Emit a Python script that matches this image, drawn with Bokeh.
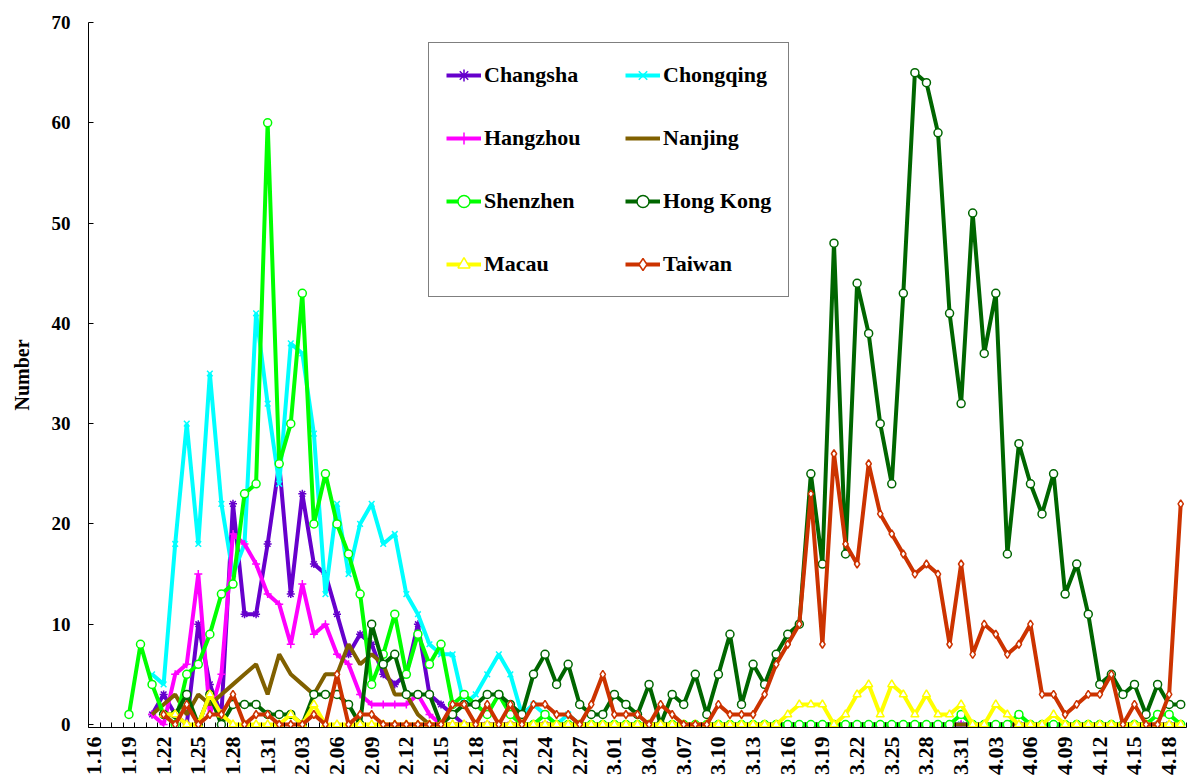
import math
from bokeh.plotting import figure
from bokeh.models import Range1d, FixedTicker, Legend, LegendItem, ColumnDataSource
from bokeh.embed import file_html
from bokeh.resources import INLINE

dates = [
    "1.16", "1.17", "1.18", "1.19", "1.20", "1.21", "1.22", "1.23", "1.24", "1.25",
    "1.26", "1.27", "1.28", "1.29", "1.30", "1.31", "2.01", "2.02", "2.03", "2.04",
    "2.05", "2.06", "2.07", "2.08", "2.09", "2.10", "2.11", "2.12", "2.13", "2.14",
    "2.15", "2.16", "2.17", "2.18", "2.19", "2.20", "2.21", "2.22", "2.23", "2.24",
    "2.25", "2.26", "2.27", "2.28", "2.29", "3.01", "3.02", "3.03", "3.04", "3.05",
    "3.06", "3.07", "3.08", "3.09", "3.10", "3.11", "3.12", "3.13", "3.14", "3.15",
    "3.16", "3.17", "3.18", "3.19", "3.20", "3.21", "3.22", "3.23", "3.24", "3.25",
    "3.26", "3.27", "3.28", "3.29", "3.30", "3.31", "4.01", "4.02", "4.03", "4.04",
    "4.05", "4.06", "4.07", "4.08", "4.09", "4.10", "4.11", "4.12", "4.13", "4.14",
    "4.15", "4.16", "4.17", "4.18", "4.19",
]
N = None
changsha = [
    N, N, N, N, N, 1, 3, 1, 0, 10,
    4, 1, 22, 11, 11, 18, 26, 13, 23, 16,
    15, 11, 7, 9, 8, 5, 4, 5, 10, 3,
    2, 1, 0, 0, 0, 0, 0, 0, 0, 0,
    0, 0, 0, 0, 0, 0, 0, 0, 0, 0,
    0, 0, 0, 0, 0, 0, 0, 0, 0, 0,
    0, 0, 0, 0, 0, 0, 0, 0, 0, 0,
    0, 0, 0, 0, 0, 0, 0, 0, 0, 0,
    0, 0, 0, 0, 0, 0, 0, 0, 0, 0,
    0, 0, 0, 0, 0,
]
chongqing = [
    N, N, N, N, N, 5, 4, 18, 30, 18,
    35, 22, 15, 18, 41, 32, 24, 38, 37, 29,
    13, 22, 15, 20, 22, 18, 19, 13, 11, 8,
    7, 7, 2, 3, 5, 7, 5, 1, 2, 1,
    0, 1, 0, 0, 0, 0, 0, 0, 0, 0,
    0, 0, 0, 0, 0, 0, 0, 0, 0, 0,
    0, 0, 0, 0, 0, 0, 0, 0, 0, 0,
    0, 0, 0, 0, 0, 0, 0, 0, 0, 0,
    0, 0, 0, 0, 0, 0, 0, 0, 0, 0,
    0, 0, 0, 0, 0,
]
hangzhou = [
    N, N, N, N, N, 1, 0, 5, 6, 15,
    1, 5, 19, 18, 16, 13, 12, 8, 14, 9,
    10, 7, 6, 3, 2, 2, 2, 2, 3, 1,
    0, 0, 0, 0, 0, 0, 0, 0, 0, 0,
    0, 0, 0, 0, 0, 0, 0, 0, 0, 0,
    0, 0, 0, 0, 0, 0, 0, 0, 0, 0,
    0, 0, 0, 0, 0, 0, 0, 0, 0, 0,
    0, 0, 0, 0, 0, 0, 0, 0, 0, 0,
    0, 0, 0, 0, 0, 0, 0, 0, 0, 0,
    0, 0, 0, 0, 0,
]
nanjing = [
    N, N, N, N, N, 1, 2, 3, 1, 3,
    2, 3, 4, 5, 6, 3, 7, 5, 4, 3,
    5, 5, 8, 6, 7, 6, 3, 3, 1, 0,
    0, 0, 0, 0, 0, 0, 0, 0, 0, 0,
    0, 0, 0, 0, 0, 0, 0, 0, 0, 0,
    0, 0, 0, 0, 0, 0, 0, 0, 0, 0,
    0, 0, 0, 0, 0, 0, 0, 0, 0, 0,
    0, 0, 0, 0, 0, 0, 0, 0, 0, 0,
    0, 0, 0, 0, 0, 0, 0, 0, 0, 0,
    0, 0, 0, 0, 0,
]
shenzhen = [
    N, N, N, 1, 8, 4, 1, 0, 5, 6,
    9, 13, 14, 23, 24, 60, 26, 30, 43, 20,
    25, 20, 17, 13, 4, 7, 11, 5, 9, 6,
    8, 2, 3, 2, 1, 3, 1, 0, 0, 1,
    0, 0, 0, 0, 0, 0, 0, 0, 0, 0,
    0, 0, 0, 0, 0, 0, 0, 0, 0, 0,
    0, 0, 0, 0, 0, 0, 0, 0, 0, 0,
    0, 0, 0, 0, 0, 1, 0, 0, 0, 0,
    1, 0, 0, 0, 0, 0, 0, 0, 0, 0,
    0, 0, 1, 1, 0,
]
hongkong = [
    N, N, N, N, N, N, 1, 1, 3, 0,
    3, 0, 2, 2, 2, 1, 1, 1, 0, 3,
    3, 3, 2, 0, 10, 6, 7, 3, 3, 3,
    0, 1, 2, 2, 3, 3, 2, 1, 5, 7,
    4, 6, 2, 1, 1, 3, 2, 1, 4, 0,
    3, 2, 5, 1, 5, 9, 2, 6, 4, 7,
    9, 10, 25, 16, 48, 17, 44, 39, 30, 24,
    43, 65, 64, 59, 41, 32, 51, 37, 43, 17,
    28, 24, 21, 25, 13, 16, 11, 4, 5, 3,
    4, 1, 4, 2, 2,
]
macau = [
    N, N, N, N, N, N, 1, 1, 0, 0,
    3, 1, 0, 0, 0, 0, 0, 1, 0, 2,
    0, 0, 0, 0, 0, 0, 0, 0, 0, 0,
    0, 0, 0, 0, 0, 0, 0, 0, 0, 0,
    0, 0, 0, 0, 0, 0, 0, 0, 0, 0,
    0, 0, 0, 0, 0, 0, 0, 0, 0, 0,
    1, 2, 2, 2, 0, 1, 3, 4, 1, 4,
    3, 1, 3, 1, 1, 2, 0, 0, 2, 1,
    0, 0, 0, 1, 0, 0, 0, 0, 0, 0,
    0, 0, 0, 0, 0,
]
taiwan = [
    N, N, N, N, N, N, 1, 0, 2, 0,
    1, 1, 3, 0, 1, 1, 0, 0, 0, 1,
    0, 5, 0, 1, 1, 0, 0, 0, 0, 0,
    0, 2, 2, 0, 2, 0, 2, 0, 2, 2,
    1, 1, 0, 2, 5, 1, 1, 1, 0, 2,
    1, 0, 0, 0, 2, 1, 1, 1, 3, 6,
    8, 10, 23, 8, 27, 18, 16, 26, 21, 19,
    17, 15, 16, 15, 8, 16, 7, 10, 9, 7,
    8, 10, 3, 3, 1, 2, 3, 3, 5, 0,
    2, 0, 0, 3, 22,
]

series = [
    ("Changsha", changsha, "#6600CC", "asterisk", "#6600CC"),
    ("Chongqing", chongqing, "#00FFFF", "x", "#00FFFF"),
    ("Hangzhou", hangzhou, "#FF00FF", "cross", "#FF00FF"),
    ("Nanjing", nanjing, "#806000", None, None),
    ("Shenzhen", shenzhen, "#00FF00", "circle", "white"),
    ("Hong Kong", hongkong, "#006600", "circle", "white"),
    ("Macau", macau, "#FFFF00", "triangle", "white"),
    ("Taiwan", taiwan, "#CC3300", "diamond", "white"),
]

FONT = "Liberation Serif"
n = len(dates)
xs = list(range(n))

p = figure(width=1188, height=778, output_backend="svg", toolbar_location=None,
           x_range=Range1d(-0.5, n - 0.5), y_range=Range1d(-0.3, 70),
           min_border_left=88, min_border_top=22, min_border_right=2, min_border_bottom=48,
           outline_line_color=None, background_fill_color="white", border_fill_color="white")
p.grid.visible = False

xa = p.xaxis[0]
xa.ticker = FixedTicker(ticks=list(range(0, n, 3)), minor_ticks=[i - 0.5 for i in range(n + 1)])
xa.major_label_overrides = {i: dates[i] for i in range(0, n, 3)}
xa.major_label_orientation = math.pi / 2
xa.major_label_text_font = FONT
xa.major_label_text_font_style = "bold"
xa.major_label_text_font_size = "22px"
xa.major_label_text_color = "black"
xa.major_label_standoff = 9
xa.major_tick_line_color = None
xa.major_tick_in = 0
xa.major_tick_out = 0
xa.minor_tick_in = 5
xa.minor_tick_out = 0
xa.minor_tick_line_color = "black"
xa.axis_line_color = "black"

ya = p.yaxis[0]
ya.ticker = FixedTicker(ticks=[0, 10, 20, 30, 40, 50, 60, 70])
ya.major_tick_in = 5
ya.major_tick_out = 0
ya.minor_tick_line_color = None
ya.major_label_text_font = FONT
ya.major_label_text_font_style = "bold"
ya.major_label_text_font_size = "19px"
ya.major_label_text_color = "black"
ya.major_label_standoff = 18
ya.axis_label = "Number"
ya.axis_label_text_font = FONT
ya.axis_label_text_font_style = "bold"
ya.axis_label_text_font_size = "20px"
ya.axis_label_text_color = "black"
ya.axis_label_standoff = 16
ya.axis_line_color = "black"

items = []
for name, vals, color, marker, fill in series:
    ys = [float("nan") if v is None else v for v in vals]
    src = ColumnDataSource(dict(x=xs, y=ys))
    rs = [p.line("x", "y", source=src, line_color=color, line_width=4)]
    if marker is not None:
        rs.append(p.scatter("x", "y", source=src, marker=marker, size=8,
                            line_color=color, fill_color=fill, line_width=1.5))
    items.append(LegendItem(label=name, renderers=rs))

legend = Legend(items=items, location=(340, 430), orientation="horizontal", ncols=2,
                label_text_font=FONT, label_text_font_style="bold",
                label_text_font_size="22px", label_text_color="black",
                glyph_width=35, glyph_height=30, label_height=30, label_width=108,
                label_standoff=3, spacing=33, padding=17, margin=0,
                border_line_color="black", border_line_width=1,
                background_fill_color="white", background_fill_alpha=1)
p.add_layout(legend, "center")

open("out.html", "w").write(file_html(p, INLINE))
